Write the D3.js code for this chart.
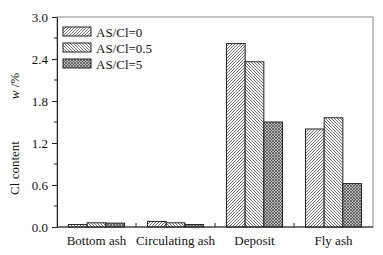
<!DOCTYPE html>
<html><head><meta charset="utf-8">
<script src="https://cdn.jsdelivr.net/npm/d3@7"></script>
<style>body{margin:0;background:#fff}svg{display:block}svg text{font-family:"Liberation Serif","Times New Roman","DejaVu Serif",serif !important;fill:#111}</style>
</head><body>
<script>
const categories = ["Bottom ash","Circulating ash","Deposit","Fly ash"];
const seriesNames = ["AS/Cl=0","AS/Cl=0.5","AS/Cl=5"];
const s0 = [0.035, 0.08, 2.62, 1.40];
const s1 = [0.06, 0.06, 2.36, 1.56];
const s2 = [0.055, 0.035, 1.50, 0.62];
const yTicks = [0.0, 0.6, 1.2, 1.8, 2.4, 3.0];
const series = [s0, s1, s2];

const FONT = "Liberation Serif, Times New Roman, DejaVu Serif, serif";
const W = 383, H = 255;
const m = {l:57, r:10, t:17, b:28};
const svg = d3.select("body").append("svg").attr("width", W).attr("height", H).attr("font-family", FONT);
const defs = svg.append("defs");

function linePattern(id, dir){
  const p = defs.append("pattern").attr("id", id).attr("patternUnits","userSpaceOnUse")
    .attr("width", 3).attr("height", 3);
  p.append("rect").attr("width",3).attr("height",3).attr("fill","#fff");
  const d = dir > 0 ? "M-1,1 l2,-2 M0,3 l3,-3 M2,4 l2,-2" : "M-1,2 l2,2 M0,0 l3,3 M2,-1 l2,2";
  p.append("path").attr("d", d).attr("stroke","#333").attr("stroke-width",0.7);
}
linePattern("p0", 1);
linePattern("p1", -1);
{
  const p = defs.append("pattern").attr("id","p2").attr("patternUnits","userSpaceOnUse")
    .attr("width",3).attr("height",3);
  p.append("rect").attr("width",3).attr("height",3).attr("fill","#bbb");
  p.append("path").attr("d","M-1,1 l2,-2 M0,3 l3,-3 M2,4 l2,-2 M-1,2 l2,2 M0,0 l3,3 M2,-1 l2,2")
    .attr("stroke","#333").attr("stroke-width",0.6);
}
const fills = ["url(#p0)","url(#p1)","url(#p2)"];

const x0 = d3.scaleBand().domain(categories).range([m.l, W - m.r]).paddingInner(0.29).paddingOuter(0.145);
const x1 = d3.scaleBand().domain(d3.range(3)).range([0, x0.bandwidth()]);
const y = d3.scaleLinear().domain([0, 3.0]).range([H - m.b, m.t]);

// frame
svg.append("rect").attr("x", m.l).attr("y", m.t).attr("width", W - m.r - m.l).attr("height", H - m.b - m.t)
  .attr("fill","none").attr("stroke","#888").attr("stroke-width",1);

// bars
categories.forEach((c, i) => {
  series.forEach((s, j) => {
    svg.append("rect")
      .attr("x", x0(c) + x1(j)).attr("y", y(s[i]))
      .attr("width", x1.bandwidth()).attr("height", y(0) - y(s[i]))
      .attr("fill", fills[j]).attr("stroke","#222").attr("stroke-width",1);
  });
});

// y axis
const yAxis = d3.axisLeft(y).tickValues(yTicks).tickFormat(d3.format(".1f")).tickSize(5).tickSizeOuter(0);
const ga = svg.append("g").attr("transform",`translate(${m.l},0)`).call(yAxis).attr("font-family", FONT);
ga.select(".domain").attr("stroke","#222");
ga.selectAll(".tick line").attr("stroke","#222");
ga.selectAll(".tick text").attr("font-size",13).attr("fill","#111").attr("dx",-1);
const minor = d3.range(0.3, 3.0, 0.6);
svg.append("g").selectAll("line").data(minor).join("line")
  .attr("x1", m.l - 3).attr("x2", m.l).attr("y1", d => y(d)).attr("y2", d => y(d)).attr("stroke","#222");

// x axis
const gx = svg.append("g").attr("transform",`translate(0,${H - m.b})`);
gx.append("line").attr("x1", m.l).attr("x2", W - m.r).attr("stroke","#222");
const bounds = categories.slice(1).map(c => x0(c) - x0.step()*x0.paddingInner()/2);
gx.selectAll("line.tk").data(bounds).join("line").attr("class","tk")
  .attr("x1", d => d).attr("x2", d => d).attr("y1", 0).attr("y2", -4).attr("stroke","#222");
gx.selectAll("text").data(categories).join("text")
  .attr("x", d => x0(d) + x0.bandwidth()/2).attr("y", 18)
  .attr("text-anchor","middle").attr("font-size",13).text(d => d);

// y label
svg.append("text").attr("transform","translate(19,168) rotate(-90)").attr("font-size",13)
  .attr("text-anchor","middle").text("Cl content");
const yl2 = svg.append("text").attr("transform","translate(19,86) rotate(-90)").attr("font-size",13)
  .attr("text-anchor","middle");
yl2.append("tspan").attr("font-style","italic").text("w");
yl2.append("tspan").text(" /%");

// legend
const lg = svg.append("g");
seriesNames.forEach((n, j) => {
  const yy = 27 + j*16;
  lg.append("rect").attr("x", 63).attr("y", yy).attr("width", 28).attr("height", 9)
    .attr("fill", fills[j]).attr("stroke","#222").attr("stroke-width",1);
  lg.append("text").attr("x", 96).attr("y", yy + 9.5).attr("font-size",13).text(n);
});
</script>
</body></html>
